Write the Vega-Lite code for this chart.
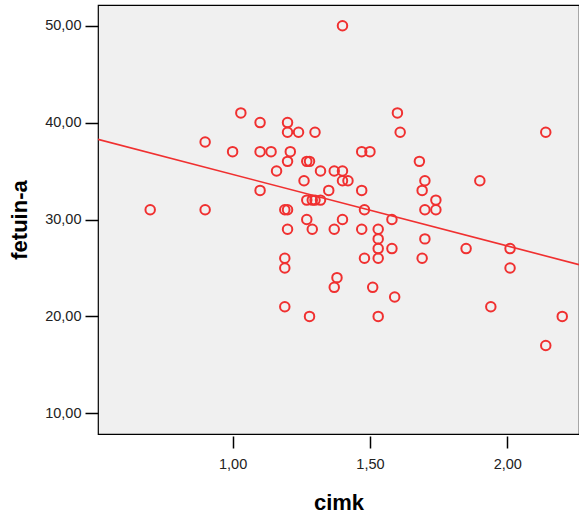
{
  "$schema": "https://vega.github.io/schema/vega-lite/v6.json",
  "width": 481,
  "height": 429,
  "autosize": {"type": "none"},
  "padding": {"left": 98, "top": 5, "right": 0, "bottom": 86},
  "background": "white",
  "config": {
    "view": {"fill": "#f0f0f0", "stroke": "#000000", "strokeWidth": 1.2},
    "font": "Liberation Sans"
  },
  "data": {
    "values": [
      {"cimk": 0.70, "fetuin": 31}, {"cimk": 0.90, "fetuin": 38}, {"cimk": 0.90, "fetuin": 31},
      {"cimk": 1.00, "fetuin": 37}, {"cimk": 1.03, "fetuin": 41}, {"cimk": 1.10, "fetuin": 40},
      {"cimk": 1.10, "fetuin": 37}, {"cimk": 1.10, "fetuin": 33}, {"cimk": 1.14, "fetuin": 37},
      {"cimk": 1.16, "fetuin": 35}, {"cimk": 1.19, "fetuin": 31}, {"cimk": 1.19, "fetuin": 26},
      {"cimk": 1.19, "fetuin": 25}, {"cimk": 1.19, "fetuin": 21}, {"cimk": 1.20, "fetuin": 40},
      {"cimk": 1.20, "fetuin": 39}, {"cimk": 1.20, "fetuin": 36}, {"cimk": 1.20, "fetuin": 31},
      {"cimk": 1.20, "fetuin": 29}, {"cimk": 1.21, "fetuin": 37}, {"cimk": 1.24, "fetuin": 39},
      {"cimk": 1.26, "fetuin": 34}, {"cimk": 1.27, "fetuin": 36}, {"cimk": 1.27, "fetuin": 32},
      {"cimk": 1.27, "fetuin": 30}, {"cimk": 1.28, "fetuin": 36}, {"cimk": 1.28, "fetuin": 20},
      {"cimk": 1.29, "fetuin": 32}, {"cimk": 1.29, "fetuin": 29}, {"cimk": 1.30, "fetuin": 39},
      {"cimk": 1.30, "fetuin": 32}, {"cimk": 1.32, "fetuin": 35}, {"cimk": 1.32, "fetuin": 32},
      {"cimk": 1.35, "fetuin": 33}, {"cimk": 1.37, "fetuin": 35}, {"cimk": 1.37, "fetuin": 29},
      {"cimk": 1.37, "fetuin": 23}, {"cimk": 1.38, "fetuin": 24}, {"cimk": 1.40, "fetuin": 50},
      {"cimk": 1.40, "fetuin": 35}, {"cimk": 1.40, "fetuin": 34}, {"cimk": 1.40, "fetuin": 30},
      {"cimk": 1.42, "fetuin": 34}, {"cimk": 1.47, "fetuin": 37}, {"cimk": 1.47, "fetuin": 33},
      {"cimk": 1.47, "fetuin": 29}, {"cimk": 1.48, "fetuin": 31}, {"cimk": 1.48, "fetuin": 26},
      {"cimk": 1.50, "fetuin": 37}, {"cimk": 1.51, "fetuin": 23}, {"cimk": 1.53, "fetuin": 29},
      {"cimk": 1.53, "fetuin": 28}, {"cimk": 1.53, "fetuin": 27}, {"cimk": 1.53, "fetuin": 26},
      {"cimk": 1.53, "fetuin": 20}, {"cimk": 1.58, "fetuin": 30}, {"cimk": 1.58, "fetuin": 27},
      {"cimk": 1.59, "fetuin": 22}, {"cimk": 1.60, "fetuin": 41}, {"cimk": 1.61, "fetuin": 39},
      {"cimk": 1.68, "fetuin": 36}, {"cimk": 1.69, "fetuin": 33}, {"cimk": 1.69, "fetuin": 26},
      {"cimk": 1.70, "fetuin": 34}, {"cimk": 1.70, "fetuin": 31}, {"cimk": 1.70, "fetuin": 28},
      {"cimk": 1.74, "fetuin": 32}, {"cimk": 1.74, "fetuin": 31}, {"cimk": 1.85, "fetuin": 27},
      {"cimk": 1.90, "fetuin": 34}, {"cimk": 1.94, "fetuin": 21}, {"cimk": 2.01, "fetuin": 27},
      {"cimk": 2.01, "fetuin": 25}, {"cimk": 2.14, "fetuin": 39}, {"cimk": 2.14, "fetuin": 17},
      {"cimk": 2.20, "fetuin": 20}
    ]
  },
  "encoding": {
    "x": {
      "field": "cimk", "type": "quantitative",
      "scale": {"domain": [0.51, 2.261], "nice": false, "zero": false},
      "axis": {
        "values": [1, 1.5, 2],
        "labelExpr": "replace(format(datum.value, '.2f'), '.', ',')",
        "grid": false, "domain": false, "offset": 2,
        "tickSize": 12, "tickWidth": 1.5, "tickColor": "#000000",
        "labelFontSize": 14.5, "labelColor": "#222222", "labelPadding": 9,
        "title": "cimk", "titleFontSize": 22, "titleFontWeight": "bold",
        "titleColor": "#000000", "titlePadding": 22
      }
    },
    "y": {
      "field": "fetuin", "type": "quantitative",
      "scale": {"domain": [7.86, 52.14], "nice": false, "zero": false},
      "axis": {
        "values": [10, 20, 30, 40, 50],
        "labelExpr": "replace(format(datum.value, '.2f'), '.', ',')",
        "grid": false, "domain": false, "offset": 0,
        "tickSize": 13, "tickWidth": 1.5, "tickColor": "#000000",
        "labelFontSize": 14.5, "labelColor": "#222222", "labelPadding": 4,
        "title": "fetuin-a", "titleFontSize": 22, "titleFontWeight": "bold",
        "titleColor": "#000000", "titlePadding": 13
      }
    }
  },
  "layer": [
    {
      "mark": {"type": "point", "shape": "circle", "filled": false, "color": "#f03030",
               "strokeWidth": 2, "size": 90, "opacity": 1, "clip": true}
    },
    {
      "transform": [{"regression": "fetuin", "on": "cimk", "extent": [0.51, 2.261]}],
      "mark": {"type": "line", "color": "#f03030", "strokeWidth": 1.6, "clip": true}
    }
  ]
}
